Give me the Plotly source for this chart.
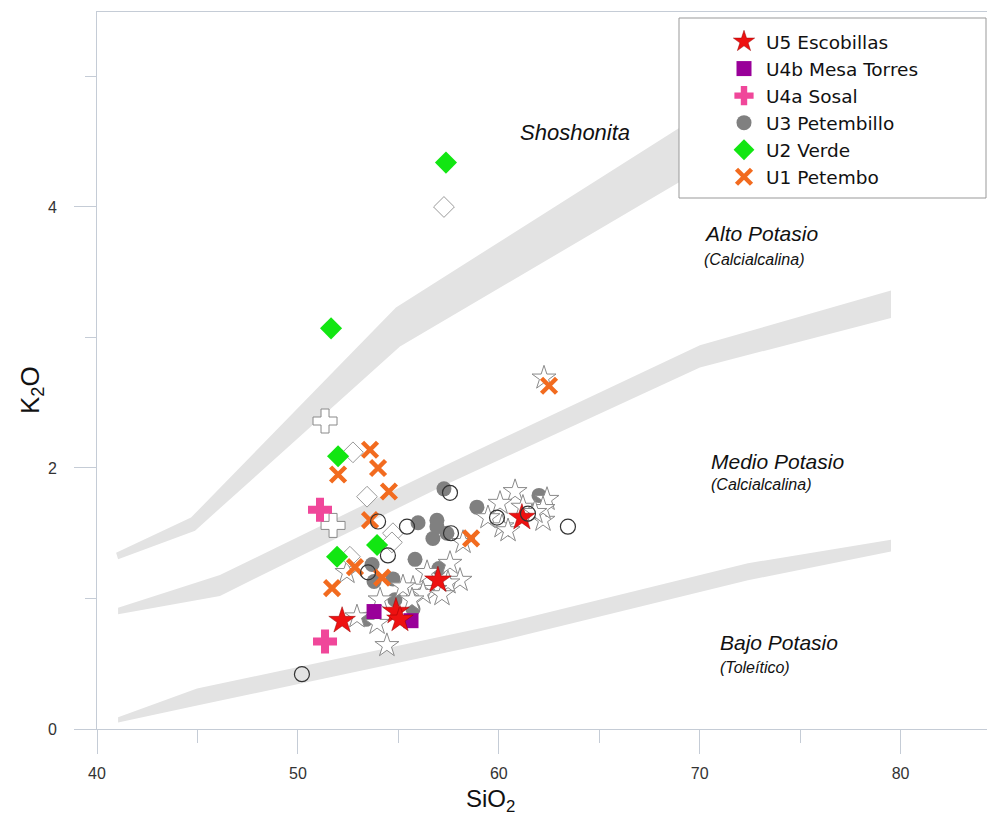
import plotly.graph_objects as go

# ---------------- boundary bands (SiO2, K2O) ----------------
band1_x = [40.95, 44.68, 54.88, 68.87, 72.0, 72.0, 68.87, 55.08, 44.88, 41.05]
band1_y = [1.35, 1.62, 3.23, 4.59, 4.90, 4.47, 4.18, 2.93, 1.52, 1.30]
band2_x = [41.05, 46.12, 57.32, 70.01, 79.52, 79.52, 70.01, 57.32, 46.12, 41.05]
band2_y = [0.93, 1.18, 2.02, 2.94, 3.36, 3.15, 2.77, 1.87, 1.02, 0.88]
band3_x = [41.05, 44.98, 59.96, 72.40, 79.52, 79.52, 72.40, 59.96, 44.98, 41.05]
band3_y = [0.09, 0.31, 0.80, 1.27, 1.45, 1.36, 1.14, 0.67, 0.18, 0.05]

# ---------------- reference (hollow) samples ----------------
ostar_x = [62.25, 60.81, 60.06, 62.40, 61.20, 59.46, 60.16, 60.46, 62.20, 62.20, 61.80,
           58.22, 57.57, 58.07, 56.43, 57.47, 55.73, 56.82, 56.23, 57.17, 55.23, 55.68,
           54.09, 52.44, 52.94, 53.94, 54.43]
ostar_y = [2.69, 1.82, 1.73, 1.76, 1.70, 1.62, 1.55, 1.52, 1.60, 1.69, 1.66,
           1.43, 1.27, 1.14, 1.20, 1.12, 1.08, 1.07, 1.04, 1.03, 1.09, 0.99,
           0.99, 1.20, 0.86, 0.81, 0.64]
ocirc_x = [57.57, 53.99, 55.43, 57.62, 54.48, 53.49, 59.91, 61.45, 63.44, 50.20]
ocirc_y = [1.81, 1.59, 1.55, 1.50, 1.33, 1.20, 1.62, 1.65, 1.55, 0.42]
odiam_x = [57.27, 52.74, 53.44, 54.73, 54.68, 52.59]
odiam_y = [4.00, 2.12, 1.78, 1.50, 1.43, 1.32]
ocross_x = [51.35, 51.75]
ocross_y = [2.36, 1.56]

# ---------------- units ----------------
u5_x = [52.20, 54.88, 55.08, 56.97, 61.15]
u5_y = [0.83, 0.90, 0.84, 1.14, 1.62]
u4b_x = [53.79, 55.63]
u4b_y = [0.90, 0.83]
u4a_x = [51.10, 51.35]
u4a_y = [1.68, 0.67]
u3_x = [57.27, 58.91, 62.00, 55.98, 56.92, 56.92, 57.42, 56.72, 55.83, 57.02,
        53.69, 53.79, 54.73, 54.83, 55.73, 53.39]
u3_y = [1.84, 1.70, 1.79, 1.58, 1.60, 1.55, 1.50, 1.46, 1.30, 1.23,
        1.26, 1.13, 1.15, 0.99, 0.92, 0.84]
u2_x = [57.37, 51.65, 52.00, 53.94, 51.95]
u2_y = [4.34, 3.07, 2.09, 1.41, 1.32]
u1_x = [53.59, 53.99, 52.00, 54.53, 53.59, 58.62, 52.84, 54.19, 51.70, 62.50]
u1_y = [2.14, 2.00, 1.95, 1.82, 1.60, 1.46, 1.24, 1.16, 1.08, 2.63]

fig = go.Figure()

band_color = "#e3e3e3"
for bx, by in [(band1_x, band1_y), (band2_x, band2_y), (band3_x, band3_y)]:
    fig.add_trace(go.Scatter(x=bx, y=by, fill="toself", fillcolor=band_color,
                             mode="lines", line=dict(width=0, color=band_color),
                             showlegend=False, hoverinfo="skip"))

fig.add_trace(go.Scatter(x=u3_x, y=u3_y, mode="markers", name="U3 Petembillo",
                         legendrank=4,
                         marker=dict(symbol="circle", size=15, color="#808080",
                                     line=dict(width=0))))

fig.add_trace(go.Scatter(x=ostar_x, y=ostar_y, mode="markers", showlegend=False,
                         marker=dict(symbol="star", size=18, color="white",
                                     line=dict(width=1, color="#8a8a8a"))))
fig.add_trace(go.Scatter(x=odiam_x, y=odiam_y, mode="markers", showlegend=False,
                         marker=dict(symbol="diamond", size=16, color="white",
                                     line=dict(width=1, color="#9a9a9a"))))
fig.add_trace(go.Scatter(x=ocross_x, y=ocross_y, mode="markers", showlegend=False,
                         marker=dict(symbol="cross", size=20, color="white",
                                     line=dict(width=1, color="#8a8a8a"))))

fig.add_trace(go.Scatter(x=u2_x, y=u2_y, mode="markers", name="U2 Verde", legendrank=5,
                         marker=dict(symbol="diamond", size=17, color="#12e612",
                                     line=dict(width=0))))
fig.add_trace(go.Scatter(x=u1_x, y=u1_y, mode="markers", name="U1 Petembo", legendrank=6,
                         marker=dict(symbol="x-thin-open", size=15, color="#f26b1f",
                                     line=dict(width=4.5, color="#f26b1f"))))
fig.add_trace(go.Scatter(x=u4a_x, y=u4a_y, mode="markers", name="U4a Sosal", legendrank=3,
                         marker=dict(symbol="cross", size=20, color="#f0479a",
                                     line=dict(width=0))))
fig.add_trace(go.Scatter(x=u4b_x, y=u4b_y, mode="markers", name="U4b Mesa Torres", legendrank=2,
                         marker=dict(symbol="square", size=15, color="#990099",
                                     line=dict(width=0))))
fig.add_trace(go.Scatter(x=u5_x, y=u5_y, mode="markers", name="U5 Escobillas", legendrank=1,
                         marker=dict(symbol="star", size=20, color="#ee1111",
                                     line=dict(width=0.5, color="#990000"))))

fig.add_trace(go.Scatter(x=ocirc_x, y=ocirc_y, mode="markers", showlegend=False,
                         marker=dict(symbol="circle-open", size=15, color="#333333",
                                     line=dict(width=1.2, color="#333333"))))

axis_col = "#c5ccd6"
fig.update_xaxes(range=[40, 84.30], showline=True, linecolor=axis_col, linewidth=1,
                 mirror=True, ticks="outside", ticklen=24, tickcolor=axis_col,
                 tickvals=[40, 50, 60, 70, 80], ticktext=["40", "50", "60", "70", "80"],
                 minor=dict(tickvals=[45, 55, 65, 75], ticklen=13, tickcolor=axis_col,
                            ticks="outside"),
                 showgrid=False, zeroline=False, ticklabelstandoff=6,
                 tickfont=dict(family="Liberation Sans, Arial", size=16, color="#333333"))
fig.update_yaxes(range=[0, 5.494], showline=True, linecolor=axis_col, linewidth=1,
                 ticks="outside", ticklen=22, tickcolor=axis_col,
                 tickvals=[0, 2, 4], ticktext=["0", "2", "4"],
                 minor=dict(tickvals=[1, 3, 5], ticklen=11, tickcolor=axis_col,
                            ticks="outside"),
                 showgrid=False, zeroline=False, ticklabelstandoff=14,
                 tickfont=dict(family="Liberation Sans, Arial", size=16, color="#333333"))

ann_font = dict(family="Liberation Sans, Arial", color="#111111")
annotations = [
    dict(x=(490 - 97) / 890.0, y=1.0 - (800 - 12) / 717.0, xref="paper", yref="paper",
         text="SiO<sub>2</sub>", showarrow=False, font=dict(size=24, **ann_font),
         xanchor="center", yanchor="middle"),
    dict(x=(32 - 97) / 890.0, y=(729 - 390) / 717.0, xref="paper", yref="paper",
         text="K<sub>2</sub>O", showarrow=False, font=dict(size=26, **ann_font),
         textangle=-90, xanchor="center", yanchor="middle"),
    dict(x=63.8, y=4.57, text="<i>Shoshonita</i>", showarrow=False,
         font=dict(size=22, **ann_font), xanchor="center", yanchor="middle"),
    dict(x=70.1, y=3.8, text="<i>Alto Potasio</i>", showarrow=False,
         font=dict(size=21, **ann_font), xanchor="left", yanchor="middle"),
    dict(x=70.1, y=3.6, text="<i>(Calcialcalina)</i>", showarrow=False,
         font=dict(size=16, **ann_font), xanchor="left", yanchor="middle"),
    dict(x=70.45, y=2.05, text="<i>Medio Potasio</i>", showarrow=False,
         font=dict(size=21, **ann_font), xanchor="left", yanchor="middle"),
    dict(x=70.45, y=1.87, text="<i>(Calcialcalina)</i>", showarrow=False,
         font=dict(size=16, **ann_font), xanchor="left", yanchor="middle"),
    dict(x=70.9, y=0.66, text="<i>Bajo Potasio</i>", showarrow=False,
         font=dict(size=21, **ann_font), xanchor="left", yanchor="middle"),
    dict(x=70.9, y=0.47, text="<i>(Toleítico)</i>", showarrow=False,
         font=dict(size=16, **ann_font), xanchor="left", yanchor="middle"),
]

# legend frame drawn as a box; the legend itself sits inside it
shapes = [dict(type="rect", xref="paper", yref="paper",
               x0=(679 - 97) / 890.0, x1=(986 - 97) / 890.0,
               y0=(729 - 198) / 717.0, y1=(729 - 18) / 717.0,
               fillcolor="white", line=dict(color="#999999", width=1), layer="above")]

fig.update_layout(
    width=987, height=818,
    margin=dict(l=97, r=0, t=12, b=89),
    paper_bgcolor="white", plot_bgcolor="white",
    annotations=annotations, shapes=shapes,
    showlegend=True,
    legend=dict(x=(722 - 97) / 890.0, y=(729 - 23) / 717.0, xanchor="left", yanchor="top",
                bgcolor="rgba(0,0,0,0)", borderwidth=0,
                font=dict(family="DejaVu Sans", size=18.5, color="#111111"),
                itemwidth=34, tracegroupgap=0, traceorder="normal"),
)

fig.write_html("out.html")
